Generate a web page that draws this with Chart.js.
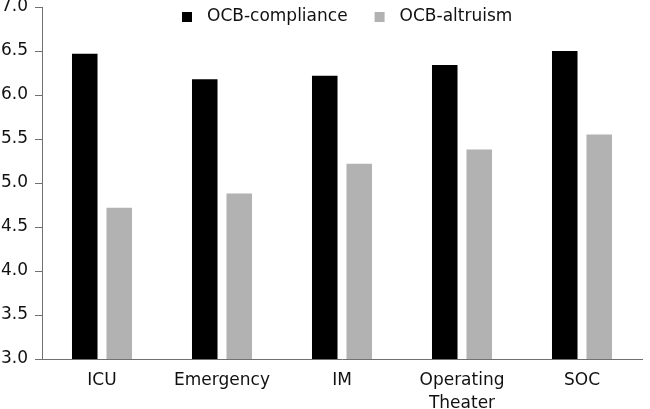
<!DOCTYPE html>
<html>
<head>
<meta charset="utf-8">
<script src="https://cdn.jsdelivr.net/npm/chart.js@4/dist/chart.umd.min.js"></script>
<style>
  html, body { margin: 0; padding: 0; background: #fff; }
  #wrap { width: 650px; height: 409px; }
</style>
</head>
<body>
<div id="wrap"><canvas id="ocb-chart"></canvas></div>
<script>
// Data
const categories = ['ICU', 'Emergency', 'IM', ['Operating', 'Theater'], 'SOC'];
const compliance = [6.47, 6.18, 6.22, 6.34, 6.50];
const altruism = [4.72, 4.88, 5.22, 5.38, 5.55];
const yTicks = [3.0, 3.5, 4.0, 4.5, 5.0, 5.5, 6.0, 6.5, 7.0];

const FONT = '"DejaVu Sans", sans-serif';
const AXIS = '#707070';

// legend drawn inside the plot, a bit right of centre
const legendPlugin = {
    id: 'innerLegend',
    afterDraw(chart) {
        const ctx = chart.ctx;
        const area = chart.chartArea;
        let x = 182;
        const y = area.top + 10;
        ctx.save();
        ctx.font = '17px ' + FONT;
        ctx.textBaseline = 'middle';
        for (const ds of chart.data.datasets) {
            ctx.fillStyle = ds.backgroundColor;
            ctx.fillRect(x, y - 5, 10, 10);
            ctx.fillStyle = '#111';
            ctx.fillText(ds.label, x + 25, y);
            x += 25 + ctx.measureText(ds.label).width + 27;
        }
        ctx.restore();
    }
};

const ctx = document.getElementById('ocb-chart').getContext('2d');

const chart = new Chart(ctx, {
    type: 'bar',
    data: {
        labels: categories,
        datasets: [
            {
                label: 'OCB-compliance',
                data: compliance,
                backgroundColor: '#000000',
                categoryPercentage: 0.575,
                barPercentage: 0.74
            },
            {
                label: 'OCB-altruism',
                data: altruism,
                backgroundColor: '#b2b2b2',
                categoryPercentage: 0.575,
                barPercentage: 0.74
            }
        ]
    },
    options: {
        responsive: true,
        maintainAspectRatio: false,
        animation: false,
        layout: { padding: { top: 7, right: 8, left: 0, bottom: 0 } },
        plugins: {
            legend: { display: false },
            tooltip: { enabled: false }
        },
        scales: {
            x: {
                grid: { display: true, drawOnChartArea: false, drawTicks: false },
                border: { display: true, color: AXIS, width: 1 },
                ticks: {
                    color: '#111',
                    font: { family: FONT, size: 17, lineHeight: 1.3 },
                    padding: 11,
                    maxRotation: 0,
                    autoSkip: false
                },
                afterFit(scale) {
                    scale.height = 50;
                    scale.paddingLeft = 0;
                    scale.paddingRight = 0;
                }
            },
            y: {
                min: 3,
                max: 7,
                afterBuildTicks(scale) {
                    scale.ticks = yTicks.map(v => ({ value: v }));
                },
                grid: {
                    display: true,
                    drawOnChartArea: false,
                    drawTicks: true,
                    tickLength: 7,
                    color: AXIS
                },
                border: { display: true, color: AXIS, width: 1 },
                ticks: {
                    color: '#111',
                    font: { family: FONT, size: 17 },
                    padding: 7,
                    callback: v => Number(v).toFixed(1)
                },
                afterFit(scale) {
                    scale.width = 42;
                    scale.paddingTop = 0;
                    scale.paddingBottom = 0;
                }
            }
        }
    },
    plugins: [legendPlugin]
});
</script>
</body>
</html>
